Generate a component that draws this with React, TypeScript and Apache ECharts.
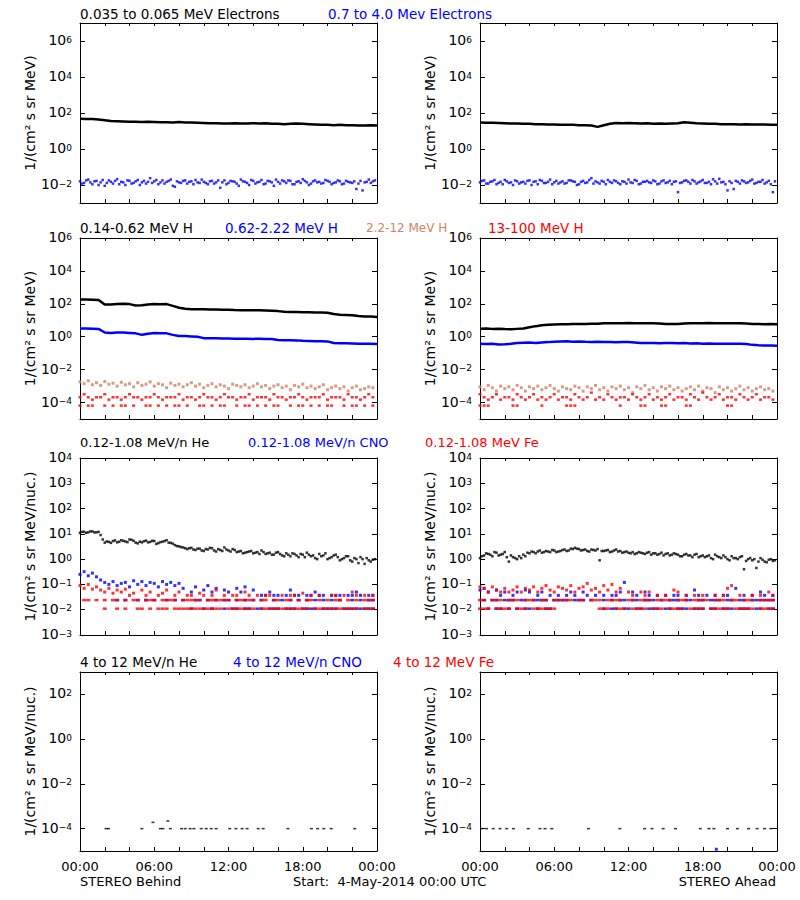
import React, { useEffect, useRef } from "react";
import * as echarts from "echarts";

const FONT = '"DejaVu Sans", Verdana, sans-serif';
const C_BLACK = "#000000";
const C_BLUE = "#0000ff";
const C_TAN = "#cd8565";
const C_RED = "#ff0000";

// ---------- axis labels ----------
const hourLabels = ["00:00", "06:00", "12:00", "18:00", "00:00"];
const yTicksElec = [-2, 0, 2, 4, 6];
const yTicksH = [-4, -2, 0, 2, 4, 6];
const yTicksLow = [-3, -2, -1, 0, 1, 2, 3, 4];
const yTicksHigh = [-4, -2, 0, 2];
const nameMeV = "1/(cm\u00b2 s sr MeV)";
const nameNuc = "1/(cm\u00b2 s sr MeV/nuc.)";

// ---------- titles ----------
const titlesRow1 = ["0.035 to 0.065 MeV Electrons", "0.7 to 4.0 Mev Electrons"];
const titlesRow2 = ["0.14-0.62 MeV H", "0.62-2.22 MeV H", "2.2-12 MeV H", "13-100 MeV H"];
const titlesRow3 = ["0.12-1.08 MeV/n He", "0.12-1.08 MeV/n CNO", "0.12-1.08 MeV Fe"];
const titlesRow4 = ["4 to 12 MeV/n He", "4 to 12 MeV/n CNO", "4 to 12 MeV Fe"];
const footer = ["STEREO Behind", "Start:  4-May-2014 00:00 UTC", "STEREO Ahead"];

// ---------- Row 1: electrons (line arrays: 0..24h every 30 min; scatter: every 20 min) ----------
const elecLoBehind = [48, 47, 46, 44, 40, 36, 35, 34, 33, 33, 32, 33, 32, 31, 31, 30, 32, 30, 30, 29, 28, 27, 27, 26, 26, 27, 26, 26, 27, 26, 27, 25, 25, 24, 25, 26, 25, 24, 23, 22, 22, 21, 22, 21, 21, 20, 20, 21, 20];
const elecHiBehind = [0.016, 0.013, 0.02, 0.011, 0.017, 0.014, 0.009, 0.018, 0.012, 0.021, 0.015, 0.01, 0.017, 0.013, 0.019, 0.014, 0.012, 0.024, 0.016, 0.011, 0.018, 0.015, 0.02, 0.008, 0.014, 0.017, 0.012, 0.016, 0.019, 0.013, 0.015, 0.011, 0.017, 0.014, 0.007, 0.018, 0.013, 0.016, 0.012, 0.02, 0.015, 0.01, 0.017, 0.014, 0.019, 0.012, 0.016, 0.009, 0.015, 0.018, 0.013, 0.017, 0.011, 0.016, 0.021, 0.014, 0.012, 0.018, 0.015, 0.013, 0.017, 0.011, 0.014, 0.016, 0.012, 0.015, 0.013, 0.006, 0.017, 0.014, 0.02, 0.016];
const elecHiBehind2 = [0.012, 0.018, 0.014, 0.016, 0.01, 0.019, 0.013, 0.015, 0.017, 0.011, 0.014, 0.018, 0.012, 0.016, 0.01, 0.017, 0.015, 0.013, 0.019, 0.014, 0.012, 0.017, 0.009, 0.016, 0.013, 0.018, 0.015, 0.011, 0.014, 0.02, 0.013, 0.016, 0.012, 0.018, 0.014, 0.011, 0.017, 0.015, 0.009, 0.016, 0.013, 0.019, 0.012, 0.015, 0.011, 0.017, 0.014, 0.02, 0.012, 0.016, 0.018, 0.011, 0.015, 0.013, 0.017, 0.01, 0.016, 0.014, 0.012, 0.019, 0.015, 0.013, 0.018, 0.011, 0.017, 0.014, 0.016, 0.012, 0.005, 0.015, 0.013, 0.018];
const elecLoAhead = [30, 29, 29, 28, 27, 26, 26, 25, 25, 24, 24, 23, 23, 22, 22, 22, 21, 21, 20, 17, 21, 25, 28, 27, 28, 27, 26, 27, 25, 26, 25, 26, 27, 31, 29, 27, 26, 25, 25, 24, 24, 24, 23, 24, 23, 23, 23, 22, 22];
const elecHiAhead = [0.014, 0.018, 0.012, 0.016, 0.011, 0.015, 0.019, 0.013, 0.01, 0.016, 0.014, 0.012, 0.018, 0.015, 0.011, 0.017, 0.013, 0.02, 0.014, 0.012, 0.016, 0.013, 0.018, 0.015, 0.011, 0.017, 0.014, 0.024, 0.016, 0.012, 0.015, 0.019, 0.013, 0.016, 0.011, 0.015, 0.02, 0.013, 0.017, 0.012, 0.015, 0.014, 0.018, 0.011, 0.016, 0.013, 0.017, 0.015, 0.004, 0.014, 0.018, 0.012, 0.016, 0.014, 0.019, 0.013, 0.011, 0.016, 0.022, 0.015, 0.005, 0.013, 0.017, 0.012, 0.016, 0.014, 0.02, 0.013, 0.015, 0.012, 0.017, 0.004];
const elecHiAhead2 = [0.017, 0.012, 0.015, 0.019, 0.013, 0.011, 0.016, 0.014, 0.018, 0.012, 0.015, 0.017, 0.01, 0.016, 0.019, 0.013, 0.015, 0.011, 0.017, 0.014, 0.012, 0.018, 0.016, 0.01, 0.015, 0.013, 0.019, 0.012, 0.014, 0.017, 0.011, 0.015, 0.018, 0.013, 0.016, 0.012, 0.014, 0.019, 0.011, 0.015, 0.017, 0.013, 0.016, 0.012, 0.018, 0.014, 0.011, 0.016, 0.013, 0.017, 0.015, 0.019, 0.012, 0.016, 0.013, 0.015, 0.021, 0.012, 0.014, 0.011, 0.016, 0.006, 0.015, 0.018, 0.013, 0.017, 0.012, 0.015, 0.019, 0.014, 0.011, 0.016];

// ---------- Row 2: protons ----------
const hLoBehind = [180, 180, 178, 170, 90, 92, 98, 100, 96, 80, 82, 92, 98, 94, 96, 75, 58, 50, 47, 46, 46, 45, 45, 44, 44, 42, 41, 41, 40, 40, 39, 38, 36, 33, 32, 32, 31, 31, 30, 30, 29, 24, 22, 21, 20, 18, 17, 17, 16];
const hMidBehind = [3.2, 3.2, 3.1, 3.0, 1.8, 1.7, 1.8, 1.8, 1.7, 1.6, 1.3, 1.5, 1.7, 1.6, 1.6, 1.3, 1.1, 1.1, 1.05, 1.0, 0.82, 0.8, 0.8, 0.78, 0.77, 0.76, 0.75, 0.76, 0.74, 0.75, 0.73, 0.72, 0.64, 0.62, 0.62, 0.6, 0.56, 0.55, 0.54, 0.53, 0.52, 0.42, 0.4, 0.4, 0.39, 0.38, 0.37, 0.37, 0.36];
const hTanBehind = [0.0018, 0.0014, 0.0021, 0.0012, 0.0016, 0.0011, 0.0019, 0.0013, 0.0015, 0.001, 0.0017, 0.0012, 0.0014, 0.0009, 0.0016, 0.0011, 0.0013, 0.0018, 0.001, 0.0014, 0.0012, 0.0008, 0.0015, 0.0011, 0.0013, 0.0009, 0.0012, 0.0016, 0.001, 0.0013, 0.0008, 0.0011, 0.0014, 0.0009, 0.0012, 0.001, 0.0007, 0.0013, 0.0011, 0.0009, 0.0012, 0.0008, 0.001, 0.0014, 0.0009, 0.0011, 0.0007, 0.001, 0.0012, 0.0008, 0.001, 0.0006, 0.0011, 0.0009, 0.0013, 0.0008, 0.001, 0.0007, 0.0009, 0.0012, 0.0006, 0.0008, 0.001, 0.0007, 0.0009, 0.0005, 0.0008, 0.001, 0.0006, 0.0007, 0.0009, 0.0008];
const hRedBehindA = [2.1e-4, 3.2e-4, 2.1e-4, 1.5e-4, 2.1e-4, 2.1e-4, 3.2e-4, 1.5e-4, 2.1e-4, 2.1e-4, 1.5e-4, 2.1e-4, 3.2e-4, 2.1e-4, 2.1e-4, 1.5e-4, 2.1e-4, 2.1e-4, 3.2e-4, 2.1e-4, 1.5e-4, 2.1e-4, 2.1e-4, 2.1e-4, 3.2e-4, 1.5e-4, 2.1e-4, 2.1e-4, 1.5e-4, 2.1e-4, 3.2e-4, 2.1e-4, 2.1e-4, 1.5e-4, 2.1e-4, 3.2e-4, 2.1e-4, 2.1e-4, 1.5e-4, 2.1e-4, 2.1e-4, 3.2e-4, 1.5e-4, 2.1e-4, 2.1e-4, 2.1e-4, 1.5e-4, 3.2e-4, 2.1e-4, 2.1e-4, 1.5e-4, 2.1e-4, 2.1e-4, 3.2e-4, 2.1e-4, 1.5e-4, 2.1e-4, 2.1e-4, 2.1e-4, 3.2e-4, 1.5e-4, 2.1e-4, 2.1e-4, 2.1e-4, 1.5e-4, 3.2e-4, 2.1e-4, 2.1e-4, 1.5e-4, 2.1e-4, 3.2e-4, 2.1e-4];
const hRedBehindB = [6.5e-5, null, 6.5e-5, 6.5e-5, null, null, 6.5e-5, null, 6.5e-5, null, 6.5e-5, 6.5e-5, null, 6.5e-5, null, null, 6.5e-5, 6.5e-5, null, 6.5e-5, null, 6.5e-5, null, 6.5e-5, 6.5e-5, null, 6.5e-5, null, null, 6.5e-5, 6.5e-5, null, 6.5e-5, null, 6.5e-5, 6.5e-5, null, null, 6.5e-5, null, 6.5e-5, 6.5e-5, null, 6.5e-5, null, 6.5e-5, null, 6.5e-5, 6.5e-5, null, null, 6.5e-5, null, 6.5e-5, 6.5e-5, null, 6.5e-5, null, 6.5e-5, null, 6.5e-5, 6.5e-5, null, null, 6.5e-5, null, 6.5e-5, 6.5e-5, null, 6.5e-5, null, 6.5e-5];
const hLoAhead = [3.1, 3.2, 3.0, 3.1, 2.9, 2.8, 3.0, 3.2, 3.8, 4.4, 5.0, 5.3, 5.5, 5.7, 5.8, 5.9, 6.0, 6.0, 6.1, 6.2, 6.5, 6.6, 6.7, 6.6, 6.8, 6.7, 6.6, 6.5, 6.5, 6.3, 6.0, 5.9, 5.9, 6.3, 6.5, 6.6, 6.7, 6.8, 6.7, 6.6, 6.7, 6.6, 6.5, 6.4, 6.0, 5.9, 5.8, 5.9, 5.8];
const hMidAhead = [0.37, 0.36, 0.38, 0.34, 0.35, 0.37, 0.42, 0.43, 0.44, 0.42, 0.45, 0.47, 0.5, 0.52, 0.53, 0.5, 0.52, 0.49, 0.48, 0.49, 0.47, 0.48, 0.46, 0.47, 0.48, 0.45, 0.42, 0.41, 0.42, 0.4, 0.41, 0.42, 0.4, 0.41, 0.39, 0.4, 0.38, 0.39, 0.37, 0.38, 0.37, 0.38, 0.37, 0.36, 0.32, 0.3, 0.29, 0.29, 0.28];
const hTanAhead = [0.0009, 0.0006, 0.0011, 0.0008, 0.0005, 0.001, 0.0007, 0.0009, 0.0006, 0.0011, 0.0008, 0.0005, 0.0009, 0.0007, 0.001, 0.0006, 0.0008, 0.0011, 0.0007, 0.0005, 0.0009, 0.0007, 0.0006, 0.001, 0.0008, 0.0005, 0.0009, 0.0007, 0.0011, 0.0006, 0.0008, 0.0005, 0.0009, 0.0007, 0.001, 0.0006, 0.0008, 0.0004, 0.0009, 0.0007, 0.0011, 0.0006, 0.0008, 0.0005, 0.0009, 0.0007, 0.001, 0.0006, 0.0008, 0.0005, 0.0007, 0.0009, 0.0006, 0.001, 0.0005, 0.0008, 0.0007, 0.0004, 0.0009, 0.0006, 0.0008, 0.0005, 0.0007, 0.001, 0.0006, 0.0008, 0.0005, 0.0007, 0.0009, 0.0006, 0.0007, 0.0005];
const hRedAheadA = [3.2e-4, 2.1e-4, 1.5e-4, 2.1e-4, 3.2e-4, 1.5e-4, 2.1e-4, 2.1e-4, 1.5e-4, 3.2e-4, 2.1e-4, 1.5e-4, 2.1e-4, 3.2e-4, 1.5e-4, 2.1e-4, 1.5e-4, 2.1e-4, 3.2e-4, 1.5e-4, 2.1e-4, 2.1e-4, 1.5e-4, 3.2e-4, 2.1e-4, 1.5e-4, 2.1e-4, 4e-4, 1.5e-4, 2.1e-4, 1.5e-4, 3.2e-4, 2.1e-4, 1.5e-4, 2.1e-4, 2.1e-4, 1.5e-4, 3.2e-4, 2.1e-4, 1.5e-4, 2.1e-4, 3.2e-4, 1.5e-4, 2.1e-4, 1.5e-4, 2.1e-4, 3.2e-4, 1.5e-4, 2.1e-4, 2.1e-4, 1.5e-4, 3.2e-4, 2.1e-4, 1.5e-4, 4e-4, 2.1e-4, 1.5e-4, 2.1e-4, 3.2e-4, 1.5e-4, 2.1e-4, 2.1e-4, 1.5e-4, 3.2e-4, 2.1e-4, 1.5e-4, 2.1e-4, 3.2e-4, 1.5e-4, 2.1e-4, 2.1e-4, 1.5e-4];
const hRedAheadB = [6.5e-5, 6.5e-5, 6.5e-5, null, null, null, null, null, 6.5e-5, 6.5e-5, null, null, null, null, null, 6.5e-5, null, null, null, null, null, 6.5e-5, 6.5e-5, 6.5e-5, null, null, null, null, null, null, null, null, null, null, 6.5e-5, null, null, null, null, 6.5e-5, 6.5e-5, null, null, null, 6.5e-5, 6.5e-5, null, null, null, null, 6.5e-5, 6.5e-5, null, null, null, null, null, null, null, null, 6.5e-5, 6.5e-5, null, null, null, null, null, null, null, null, null, null];

// ---------- Row 3: 0.12-1.08 MeV/n ions (every 20 min) ----------
const heBehind = [11, 12, 11.5, 12.5, 11.5, 9, 4.5, 4.8, 5.2, 4.6, 5.6, 5.0, 6.0, 5.3, 4.2, 4.6, 5.4, 4.8, 5.2, 4.3, 4.9, 5.6, 4.4, 3.6, 3.2, 2.9, 2.5, 2.8, 2.3, 2.6, 2.1, 2.4, 2.7, 2.0, 2.3, 2.9, 2.2, 2.5, 1.9, 2.1, 1.8, 2.0, 1.7, 1.9, 2.2, 1.6, 1.8, 1.5, 1.9, 1.4, 1.7, 1.3, 1.6, 1.2, 1.5, 1.8, 1.3, 1.1, 1.6, 1.4, 1.0, 1.2, 1.5, 0.9, 1.1, 1.3, 0.8, 1.0, 1.2, 0.65, 0.9, 0.95];
const heBehind2 = [12, 11, 12.5, 11.5, 12, 6, 5.0, 4.4, 5.5, 4.9, 5.3, 4.7, 5.8, 4.5, 4.9, 5.1, 4.6, 5.3, 4.0, 4.7, 5.2, 4.5, 4.1, 3.3, 3.0, 2.7, 2.7, 2.4, 2.6, 2.2, 2.5, 2.8, 2.2, 2.5, 2.1, 2.4, 2.0, 2.3, 2.0, 1.7, 1.9, 2.1, 1.8, 1.6, 1.9, 1.7, 1.5, 1.8, 1.6, 1.3, 1.5, 1.7, 1.4, 1.6, 1.2, 1.5, 1.4, 1.0, 1.3, 1.7, 1.1, 1.4, 1.2, 1.0, 1.3, 0.9, 1.1, 0.7, 1.0, 1.1, 0.8, 1.0];
const cnoBehindHi = [0.25, 0.32, 0.22, 0.28, 0.2, 0.15, 0.12, 0.1, 0.13, 0.09, 0.11, 0.12, 0.08, 0.14, 0.1, 0.13, 0.09, 0.12, 0.11, 0.08, 0.13, 0.1, 0.12, 0.09, 0.11, 0.07, null, 0.05, 0.08, null, 0.06, 0.09, 0.05, 0.07, null, 0.06, 0.05, null, 0.07, 0.05, 0.08, null, 0.06, null, 0.037, 0.037, 0.05, 0.037, 0.037, null, 0.037, 0.06, 0.037, 0.037, null, 0.037, 0.037, 0.05, 0.037, 0.037, null, 0.037, 0.037, 0.037, null, 0.037, 0.037, 0.05, 0.037, null, 0.037, 0.037];
const cnoBehindMid = [null, null, null, null, null, null, null, null, null, 0.024, null, 0.024, null, null, 0.024, null, 0.024, null, 0.024, null, null, 0.024, null, 0.024, null, 0.024, null, null, 0.024, 0.024, null, 0.024, null, 0.024, null, 0.024, 0.024, null, 0.024, null, 0.024, null, 0.024, null, 0.024, null, null, 0.024, null, 0.024, null, 0.024, null, 0.024, null, 0.024, null, 0.024, null, 0.024, null, 0.024, null, 0.024, null, null, 0.024, null, 0.024, null, 0.024, 0.024];
const cnoBehindBase = [null, null, null, null, null, null, null, null, null, null, null, null, null, null, null, null, null, null, null, null, null, null, null, null, null, null, null, 0.011, null, null, 0.011, null, 0.011, null, null, 0.011, null, 0.011, 0.011, null, 0.011, 0.011, null, 0.011, 0.011, null, 0.011, 0.011, 0.011, null, 0.011, 0.011, 0.011, null, 0.011, 0.011, 0.011, 0.011, null, 0.011, 0.011, 0.011, 0.011, null, 0.011, 0.011, 0.011, 0.011, 0.011, 0.011, 0.011, 0.011];
const feBehindHi = [0.09, 0.07, 0.1, 0.065, 0.08, 0.06, 0.05, 0.07, 0.045, 0.06, 0.05, 0.065, 0.037, 0.045, null, 0.06, 0.037, 0.05, null, 0.037, 0.045, 0.06, null, 0.037, 0.05, null, 0.037, 0.037, null, 0.045, 0.037, null, 0.037, 0.06, null, 0.037, null, 0.037, 0.037, null, 0.05, 0.037, null, 0.037, null, 0.037, 0.037, null, null, 0.037, null, 0.037, 0.037, null, 0.045, null, 0.037, null, 0.037, null, null, 0.037, 0.037, null, 0.037, null, 0.05, 0.037, null, 0.037, null, 0.037];
const feBehindMid = [null, 0.024, 0.024, null, 0.024, null, 0.024, null, 0.024, 0.024, null, 0.024, null, 0.024, 0.024, null, 0.024, 0.024, 0.024, null, 0.024, 0.024, 0.024, 0.024, null, 0.024, 0.024, 0.024, 0.024, 0.024, null, 0.024, 0.024, 0.024, 0.024, 0.024, 0.024, null, 0.024, 0.024, 0.024, 0.024, 0.024, null, 0.024, 0.024, null, 0.024, 0.024, null, 0.024, 0.024, null, 0.024, null, 0.024, 0.024, null, 0.024, null, 0.024, null, 0.024, 0.024, null, 0.024, null, 0.024, null, 0.024, 0.024, 0.024];
const feBehindBase = [null, null, null, null, null, null, 0.011, null, null, 0.011, null, 0.011, null, null, 0.011, 0.011, null, 0.011, null, 0.011, 0.011, 0.011, null, 0.011, 0.011, 0.011, 0.011, 0.011, 0.011, 0.011, 0.011, 0.011, 0.011, 0.011, 0.011, null, 0.011, 0.011, 0.011, 0.011, 0.011, 0.011, 0.011, null, 0.011, 0.011, 0.011, 0.011, 0.011, 0.011, 0.011, 0.011, 0.011, 0.011, 0.011, 0.011, null, 0.011, 0.011, 0.011, 0.011, 0.011, 0.011, 0.011, 0.011, 0.011, 0.011, 0.011, null, 0.011, 0.011, 0.011];
const heAhead = [1.1, 1.4, 1.6, 1.3, 1.8, 1.5, 1.9, 0.8, 1.2, 1.0, 1.1, 1.3, 1.7, 1.9, 2.0, 1.8, 2.1, 1.9, 2.2, 2.0, 2.3, 2.1, 2.6, 2.8, 2.5, 2.3, 2.1, 2.4, 2.2, 0.9, 2.1, 2.3, 2.0, 2.4, 2.1, 1.9, 1.8, 1.9, 1.7, 1.8, 1.6, 1.9, 1.7, 1.5, 1.8, 1.6, 1.4, 1.7, 1.5, 1.3, 1.6, 1.4, 1.5, 1.2, 1.4, 1.3, 1.1, 1.5, 1.2, 1.4, 1.0, 1.3, 1.1, 1.2, 0.4, 1.0, 0.9, 0.45, 1.1, 0.8, 0.95, 0.85];
const heAhead2 = [1.3, 1.7, 1.5, 1.9, 1.4, 1.6, 1.2, 1.4, 1.1, 1.3, 1.5, 1.8, 2.0, 1.7, 2.2, 1.9, 2.0, 2.3, 1.9, 2.1, 2.4, 2.2, 2.5, 2.6, 2.2, 2.4, 2.0, 2.3, 2.5, 2.1, 2.2, 1.9, 2.2, 2.0, 1.8, 2.0, 1.7, 1.6, 1.9, 1.7, 1.8, 1.5, 1.7, 1.6, 1.4, 1.7, 1.5, 1.6, 1.3, 1.5, 1.4, 1.2, 1.6, 1.3, 1.2, 1.4, 1.0, 1.3, 1.1, 1.2, 0.9, 1.1, 1.0, 1.3, 0.85, 1.1, 1.0, 0.8, 0.95, 0.75, 1.0, 0.9];
const cnoAheadHi = [0.06, 0.07, 0.05, null, 0.06, 0.037, 0.05, null, 0.037, 0.05, null, 0.06, 0.05, null, 0.037, 0.05, null, 0.037, null, 0.037, null, 0.037, 0.05, 0.037, null, 0.05, 0.037, null, 0.037, null, 0.037, null, 0.037, 0.037, 0.05, 0.12, null, 0.05, 0.037, null, 0.05, 0.037, null, 0.037, null, 0.037, null, 0.037, 0.037, null, 0.037, null, 0.06, 0.037, null, 0.037, null, 0.037, null, 0.037, 0.037, null, 0.07, null, 0.037, null, 0.037, null, 0.05, 0.037, null, 0.037];
const cnoAheadMid = [null, 0.024, null, 0.024, 0.024, null, 0.024, 0.024, 0.024, null, 0.024, 0.024, null, 0.024, 0.024, 0.024, 0.024, null, 0.024, 0.024, 0.024, 0.024, null, 0.024, 0.024, 0.024, null, 0.024, null, null, 0.024, null, 0.024, null, 0.024, 0.024, null, 0.024, 0.024, null, 0.024, 0.024, 0.024, null, 0.024, null, 0.024, 0.024, 0.024, null, 0.024, 0.024, null, 0.024, 0.024, null, 0.024, 0.024, 0.024, null, 0.024, 0.024, null, 0.024, 0.024, null, 0.024, 0.024, 0.024, 0.024, 0.024, 0.024];
const cnoAheadBase = [null, null, 0.011, null, 0.011, 0.011, null, 0.011, null, 0.011, null, 0.011, 0.011, null, 0.011, null, 0.011, 0.011, null, null, null, null, null, null, null, null, null, null, null, null, 0.011, null, 0.011, 0.011, null, 0.011, 0.011, null, 0.011, 0.011, null, 0.011, 0.011, 0.011, null, 0.011, 0.011, null, 0.011, 0.011, 0.011, null, 0.011, 0.011, 0.011, null, 0.011, 0.011, null, 0.011, 0.011, 0.011, null, 0.011, 0.011, 0.011, null, 0.011, 0.011, null, 0.011, 0.011];
const feAheadHi = [0.08, 0.07, 0.05, 0.08, 0.06, 0.05, 0.07, 0.05, 0.06, 0.08, 0.05, 0.07, 0.06, 0.08, 0.05, 0.07, 0.09, 0.06, 0.05, 0.08, 0.07, 0.06, 0.09, 0.05, 0.07, 0.08, 0.11, 0.06, 0.07, 0.05, 0.09, 0.06, 0.1, 0.05, 0.07, null, 0.05, 0.037, null, 0.05, 0.037, 0.05, null, 0.037, null, 0.037, null, 0.06, 0.05, null, 0.037, null, 0.037, null, 0.037, null, null, 0.037, null, 0.037, 0.07, 0.09, null, 0.037, null, null, 0.037, null, 0.037, null, 0.05, 0.037];
const feAheadMid = [0.024, 0.024, null, 0.024, 0.024, 0.024, null, 0.024, 0.024, 0.024, null, 0.024, 0.024, 0.024, null, 0.024, 0.024, null, 0.024, 0.024, 0.024, 0.024, 0.024, null, 0.024, 0.024, null, 0.024, 0.024, 0.024, null, 0.024, 0.024, 0.024, 0.024, null, 0.024, 0.024, null, 0.024, 0.024, 0.024, null, 0.024, 0.024, 0.024, 0.024, null, 0.024, 0.024, 0.024, null, 0.024, 0.024, 0.024, 0.024, null, 0.024, 0.024, 0.024, null, 0.024, 0.024, null, 0.024, 0.024, 0.024, null, 0.024, 0.024, 0.024, 0.024];
const feAheadBase = [0.011, 0.011, 0.011, null, 0.011, 0.011, 0.011, 0.011, null, 0.011, 0.011, 0.011, null, 0.011, 0.011, 0.011, 0.011, 0.011, 0.011, null, null, null, null, null, null, null, null, null, null, 0.011, 0.011, 0.011, null, 0.011, 0.011, 0.011, null, 0.011, 0.011, 0.011, 0.011, null, 0.011, 0.011, 0.011, null, 0.011, 0.011, 0.011, 0.011, null, 0.011, 0.011, 0.011, 0.011, null, 0.011, 0.011, 0.011, 0.011, 0.011, null, 0.011, 0.011, 0.011, 0.011, 0.011, null, 0.011, 0.011, 0.011, 0.011];

// ---------- Row 4: 4-12 MeV/n ions (sparse: hour, value) ----------
const he4BehindHours = [2.1, 2.3, 5.0, 5.9, 6.5, 6.7, 7.1, 7.3, 8.2, 8.5, 8.9, 9.2, 9.8, 10.2, 10.6, 11.0, 12.1, 12.6, 13.1, 13.5, 14.4, 14.8, 16.8, 18.7, 19.2, 19.7, 20.3, 22.2];
const he4BehindValues = [1e-4, 1e-4, 1e-4, 1.9e-4, 1e-4, 1e-4, 2.2e-4, 1e-4, 1e-4, 1e-4, 1e-4, 1e-4, 1e-4, 1e-4, 1e-4, 1e-4, 1e-4, 1e-4, 1e-4, 1e-4, 1e-4, 1e-4, 1e-4, 1e-4, 1e-4, 1e-4, 1e-4, 1e-4];
const he4AheadHours = [0.13, 0.53, 1.07, 1.62, 2.16, 2.7, 3.9, 4.85, 5.25, 5.8, 8.76, 11.3, 13.3, 13.9, 14.8, 15.8, 17.8, 18.5, 18.9, 20.0, 20.8, 21.7, 22.4, 23.0, 23.5];
const he4AheadValues = [1e-4, 1e-4, 1e-4, 1e-4, 1e-4, 1e-4, 1e-4, 1e-4, 1e-4, 1e-4, 1e-4, 1e-4, 1e-4, 1e-4, 1e-4, 1e-4, 1e-4, 1e-4, 1e-4, 1e-4, 1e-4, 1e-4, 1e-4, 1e-4, 1e-4];
const cno4AheadHours = [19.1];
const cno4AheadValues = [1.2e-5];

// ---------- builders ----------
const lg = (v: number) => Math.log10(v);

function lineSeries(g: number, vals: number[], color: string) {
  return {
    type: "line", xAxisIndex: 2 * g, yAxisIndex: 2 * g, silent: true,
    showSymbol: false, symbol: "none",
    lineStyle: { color, width: 2.5 },
    data: vals.map((v, i) => [(i * 24) / (vals.length - 1), lg(v)]),
  };
}
function scatterSeries(g: number, vals: (number | null)[], color: string, size: any, offset = 0) {
  const data: number[][] = [];
  vals.forEach((v, i) => { if (v != null) data.push([(i * 24) / vals.length + offset, lg(v)]); });
  return {
    type: "scatter", xAxisIndex: 2 * g, yAxisIndex: 2 * g, silent: true,
    symbol: "rect", symbolSize: size, itemStyle: { color }, data,
  };
}
function pairSeries(g: number, hours: number[], vals: number[], color: string, size: any) {
  return {
    type: "scatter", xAxisIndex: 2 * g, yAxisIndex: 2 * g, silent: true,
    symbol: "rect", symbolSize: size, itemStyle: { color },
    data: hours.map((h, i) => [h, lg(vals[i])]),
  };
}

const supText = (v: number) => String(v).replace("-", "\u2212");

function buildOption() {
  const rows = [
    { top: 23, height: 180, range: [-3, 7], ticks: yTicksElec, name: nameMeV },
    { top: 238, height: 181, range: [-5, 6], ticks: yTicksH, name: nameMeV },
    { top: 458, height: 177, range: [-3, 4], ticks: yTicksLow, name: nameNuc },
    { top: 672, height: 179, range: [-5, 3], ticks: yTicksHigh, name: nameNuc },
  ];
  const cols = [80, 480];
  const grid: any[] = [];
  const xAxis: any[] = [];
  const yAxis: any[] = [];
  const axisLine = { show: true, onZero: false, lineStyle: { color: "#000", width: 1 } };
  rows.forEach((r, ri) => {
    cols.forEach((left, ci) => {
      const g = ri * 2 + ci;
      grid.push({ left, top: r.top, width: 297, height: r.height, containLabel: false });
      const xCommon = {
        type: "value", gridIndex: g, min: 0, max: 24, interval: 2,
        axisLine, splitLine: { show: false },
      };
      xAxis.push({
        ...xCommon, position: "bottom",
        axisTick: { inside: true, length: 4, lineStyle: { color: "#000" } },
        axisLabel: {
          show: ri === 3, margin: 9, color: "#000", fontFamily: FONT, fontSize: 13,
          formatter: (v: number) => (v % 6 === 0 ? hourLabels[v / 6] : ""),
        },
      });
      xAxis.push({
        ...xCommon, position: "top",
        axisTick: { inside: true, length: 3, lineStyle: { color: "#000" } },
        axisLabel: { show: false },
      });
      const yCommon = {
        type: "value", gridIndex: g, min: r.range[0], max: r.range[1],
        axisLine, splitLine: { show: false },
        axisTick: { inside: true, length: 5, customValues: r.ticks, lineStyle: { color: "#000" } },
      };
      yAxis.push({
        ...yCommon, position: "left",
        name: r.name, nameLocation: "middle", nameRotate: 90, nameGap: 39,
        nameTextStyle: { fontFamily: FONT, fontSize: 14, color: "#000" },
        axisLabel: {
          customValues: r.ticks, margin: 8,
          formatter: (v: number) => `{b|10}{s|${supText(v)}}`,
          rich: {
            b: { fontFamily: FONT, fontSize: 14, color: "#000", verticalAlign: "bottom", lineHeight: 12 },
            s: { fontFamily: FONT, fontSize: 9, color: "#000", verticalAlign: "top", lineHeight: 8 },
          },
        },
      });
      yAxis.push({ ...yCommon, position: "right", axisLabel: { show: false } });
    });
  });

  const series: any[] = [
    // row 1
    lineSeries(0, elecLoBehind, C_BLACK),
    scatterSeries(0, elecHiBehind, C_BLUE, 2.5),
    scatterSeries(0, elecHiBehind2, C_BLUE, 2.5, 1 / 6),
    lineSeries(1, elecLoAhead, C_BLACK),
    scatterSeries(1, elecHiAhead, C_BLUE, 2.5),
    scatterSeries(1, elecHiAhead2, C_BLUE, 2.5, 1 / 6),
    // row 2
    lineSeries(2, hLoBehind, C_BLACK),
    lineSeries(2, hMidBehind, C_BLUE),
    scatterSeries(2, hTanBehind, C_TAN, 3),
    scatterSeries(2, hRedBehindA, C_RED, [3, 2.5]),
    scatterSeries(2, hRedBehindB, C_RED, [3, 2.5]),
    lineSeries(3, hLoAhead, C_BLACK),
    lineSeries(3, hMidAhead, C_BLUE),
    scatterSeries(3, hTanAhead, C_TAN, 3),
    scatterSeries(3, hRedAheadA, C_RED, [3, 2.5]),
    scatterSeries(3, hRedAheadB, C_RED, [3, 2.5]),
    // row 3
    scatterSeries(4, heBehind, C_BLACK, 2.5),
    scatterSeries(4, heBehind2, C_BLACK, 2.5, 1 / 6),
    scatterSeries(4, cnoBehindHi, C_BLUE, 3),
    scatterSeries(4, cnoBehindMid, C_BLUE, [4, 2.5]),
    scatterSeries(4, cnoBehindBase, C_BLUE, [4, 2.5]),
    scatterSeries(4, feBehindHi, C_RED, 3),
    scatterSeries(4, feBehindMid, C_RED, [4, 2.5]),
    scatterSeries(4, feBehindBase, C_RED, [4, 2.5]),
    scatterSeries(5, heAhead, C_BLACK, 2.5),
    scatterSeries(5, heAhead2, C_BLACK, 2.5, 1 / 6),
    scatterSeries(5, cnoAheadHi, C_BLUE, 3),
    scatterSeries(5, cnoAheadMid, C_BLUE, [4, 2.5]),
    scatterSeries(5, cnoAheadBase, C_BLUE, [4, 2.5]),
    scatterSeries(5, feAheadHi, C_RED, 3),
    scatterSeries(5, feAheadMid, C_RED, [4, 2.5]),
    scatterSeries(5, feAheadBase, C_RED, [4, 2.5]),
    // row 4
    pairSeries(6, he4BehindHours, he4BehindValues, C_BLACK, [3, 1.5]),
    pairSeries(7, he4AheadHours, he4AheadValues, C_BLACK, [3, 1.5]),
    pairSeries(7, cno4AheadHours, cno4AheadValues, C_BLUE, 3),
  ];

  const txt = (s: string, x: number, y: number, fill: string, align = "left", size = 13) => ({
    type: "text", x, y, silent: true,
    style: {
      text: s, fill, font: `${size}px ${FONT}`, lineHeight: 13,
      align, verticalAlign: "middle", textAlign: align, textVerticalAlign: "middle",
    },
  });

  const graphic = [
    txt(titlesRow1[0], 80, 14, C_BLACK, "left", 13.5),
    txt(titlesRow1[1], 328, 14, C_BLUE, "left", 13.5),
    txt(titlesRow2[0], 80, 228, C_BLACK, "left", 13.5),
    txt(titlesRow2[1], 225, 228, C_BLUE, "left", 13.5),
    txt(titlesRow2[2], 366, 228, C_TAN, "left", 12),
    txt(titlesRow2[3], 488, 228, C_RED, "left", 13.5),
    txt(titlesRow3[0], 80, 442, C_BLACK, "left", 13),
    txt(titlesRow3[1], 248, 442, C_BLUE, "left", 13),
    txt(titlesRow3[2], 425, 442, C_RED, "left", 13),
    txt(titlesRow4[0], 80, 662, C_BLACK, "left", 13.5),
    txt(titlesRow4[1], 233, 662, C_BLUE, "left", 13.5),
    txt(titlesRow4[2], 393, 662, C_RED, "left", 13.5),
    txt(footer[0], 80, 881, C_BLACK, "left", 13),
    txt(footer[1], 293, 881, C_BLACK, "left", 13),
    txt(footer[2], 776, 881, C_BLACK, "right", 13),
  ];

  return {
    animation: false,
    backgroundColor: "#ffffff",
    grid, xAxis, yAxis, series, graphic,
  };
}

export default function App() {
  const ref = useRef<HTMLDivElement>(null);
  useEffect(() => {
    if (!ref.current) return;
    const chart = echarts.init(ref.current, null, { renderer: "svg" });
    chart.setOption(buildOption() as any);
    return () => chart.dispose();
  }, []);
  return (
    <div
      ref={ref}
      style={{ position: "fixed", left: 0, top: 0, width: 800, height: 900, background: "#fff" }}
    />
  );
}
